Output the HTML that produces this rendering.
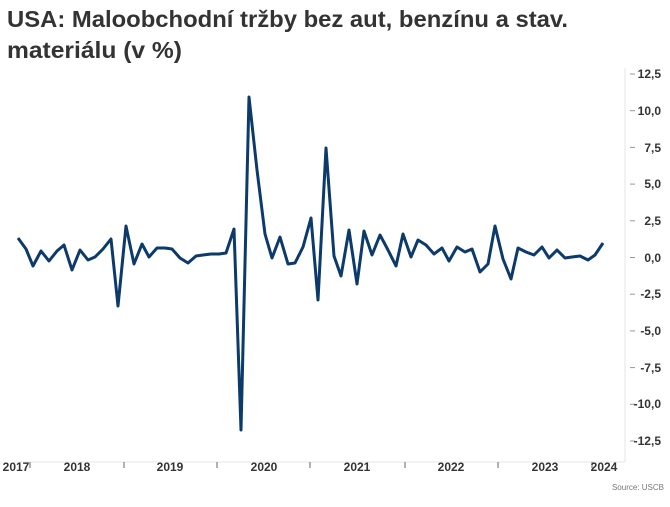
<!DOCTYPE html>
<html><head><meta charset="utf-8"><style>
body{margin:0;background:#fff;width:670px;height:502px;overflow:hidden;font-family:"Liberation Sans",sans-serif}
</style></head><body>
<svg width="670" height="502" xmlns="http://www.w3.org/2000/svg" font-family="Liberation Sans, sans-serif">
<text x="7" y="27" font-size="23" font-weight="bold" fill="#333" textLength="561" lengthAdjust="spacingAndGlyphs">USA: Maloobchodní tržby bez aut, benzínu a stav.</text>
<text x="7" y="58" font-size="23" font-weight="bold" fill="#333" textLength="175" lengthAdjust="spacingAndGlyphs">materiálu (v %)</text>
<line x1="625" y1="68" x2="625" y2="462" stroke="#e6e6e6"/>
<line x1="14" y1="462" x2="625" y2="462" stroke="#e6e6e6"/>
<g stroke="#999" stroke-width="1">
<line x1="630" x2="635" y1="74" y2="74"/><line x1="630" x2="635" y1="110.7" y2="110.7"/><line x1="630" x2="635" y1="147.4" y2="147.4"/><line x1="630" x2="635" y1="184.1" y2="184.1"/><line x1="630" x2="635" y1="220.8" y2="220.8"/><line x1="630" x2="635" y1="257.5" y2="257.5"/><line x1="630" x2="635" y1="294.2" y2="294.2"/><line x1="630" x2="635" y1="330.9" y2="330.9"/><line x1="630" x2="635" y1="367.6" y2="367.6"/><line x1="630" x2="635" y1="404.3" y2="404.3"/><line x1="630" x2="635" y1="441" y2="441"/>
</g>
<g font-size="12" font-weight="bold" fill="#333" text-anchor="end">
<text x="661" y="78">12,5</text><text x="661" y="115">10,0</text><text x="661" y="152">7,5</text><text x="661" y="188">5,0</text><text x="661" y="225">2,5</text><text x="661" y="262">0,0</text><text x="661" y="298">-2,5</text><text x="661" y="335">-5,0</text><text x="661" y="372">-7,5</text><text x="661" y="408">-10,0</text><text x="661" y="445">-12,5</text>
</g>
<g stroke="#666" stroke-width="1">
<line x1="30" x2="30" y1="462" y2="468"/><line x1="124" x2="124" y1="462" y2="468"/><line x1="217" x2="217" y1="462" y2="468"/><line x1="310" x2="310" y1="462" y2="468"/><line x1="405" x2="405" y1="462" y2="468"/><line x1="498" x2="498" y1="462" y2="468"/><line x1="592" x2="592" y1="462" y2="468"/>
</g>
<g font-size="12" font-weight="bold" fill="#333" text-anchor="middle">
<text x="16" y="471">2017</text><text x="77" y="471">2018</text><text x="170" y="471">2019</text><text x="264" y="471">2020</text><text x="357" y="471">2021</text><text x="451" y="471">2022</text><text x="545" y="471">2023</text><text x="604" y="471">2024</text>
</g>
<text x="664" y="490" font-size="8" fill="#777" text-anchor="end">Source: USCB</text>
<polyline fill="none" stroke="#0b3a6b" stroke-width="3" stroke-linejoin="round" points="18,238 26,249 33,266 41,251 49,261 57,251 64,245 72,270 80,250 88,260 95,257 103,249 111,239 118,306 126,226 134,264 142,244 149,257 157,248 165,248 172,249 180,258 188,263 196,256 203,255 211,254 219,254 226,253 234,229 241,430 249,97 257,170 265,234 272,258 280,237 288,264 295,263 303,247 311,218 318,300 326,148 334,256 341,276 349,230 357,284 364,231 372,255 380,235 388,250 396,266 403,234 411,257 418,240 426,245 434,254 442,248 449,261 457,247 465,252 472,249 480,272 488,264 495,226 503,259 511,279 518,248 526,252 534,255 542,247 549,258 557,250 565,258 572,257 580,256 588,260 595,255 603,243"/>
</svg>
</body></html>
